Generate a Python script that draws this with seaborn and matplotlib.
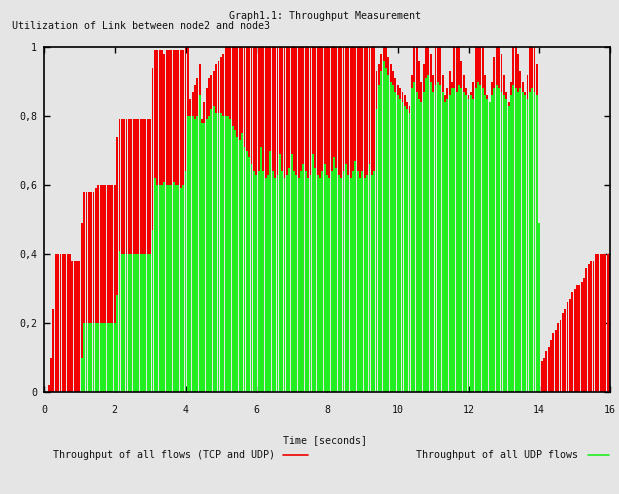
import numpy as np
import pandas as pd
import matplotlib
matplotlib.use("Agg")
import matplotlib.pyplot as plt
from matplotlib.lines import Line2D
import seaborn as sns

# ---------------- data (sampled every 1/15 s, 15 samples per second) ----------------
total_s0 = [0.00, 0.00, 0.02, 0.10, 0.24, 0.40, 0.40, 0.40, 0.40, 0.40, 0.40, 0.40, 0.38, 0.38, 0.38]
total_s1 = [0.38, 0.49, 0.58, 0.58, 0.58, 0.58, 0.58, 0.59, 0.60, 0.60, 0.60, 0.60, 0.60, 0.60, 0.60]
total_s2 = [0.60, 0.74, 0.79, 0.79, 0.79, 0.79, 0.79, 0.79, 0.79, 0.79, 0.79, 0.79, 0.79, 0.79, 0.79]
total_s3 = [0.79, 0.94, 0.99, 0.99, 0.99, 0.99, 0.98, 0.99, 0.99, 0.99, 0.99, 0.99, 0.99, 0.99, 0.99]
total_s4 = [1.00, 1.00, 0.85, 0.87, 0.89, 0.91, 0.95, 0.79, 0.84, 0.88, 0.91, 0.92, 0.93, 0.95, 0.96]
total_s5 = [0.97, 0.98, 1.00, 1.00, 1.00, 1.00, 1.00, 1.00, 1.00, 1.00, 1.00, 1.00, 1.00, 1.00, 1.00]
total_s6 = [1.00, 1.00, 1.00, 1.00, 1.00, 1.00, 1.00, 1.00, 1.00, 1.00, 1.00, 1.00, 1.00, 1.00, 1.00]
total_s7 = [1.00, 1.00, 1.00, 1.00, 1.00, 1.00, 1.00, 1.00, 1.00, 1.00, 1.00, 1.00, 1.00, 1.00, 1.00]
total_s8 = [1.00, 1.00, 1.00, 1.00, 1.00, 1.00, 1.00, 1.00, 1.00, 1.00, 1.00, 1.00, 1.00, 1.00, 1.00]
total_s9 = [1.00, 1.00, 1.00, 1.00, 1.00, 1.00, 0.93, 0.95, 0.98, 1.00, 1.00, 0.97, 0.95, 0.93, 0.91]
total_s10 = [0.89, 0.88, 0.87, 0.86, 0.84, 0.83, 0.92, 1.00, 1.00, 0.96, 0.90, 0.95, 1.00, 1.00, 0.98]
total_s11 = [0.92, 1.00, 1.00, 1.00, 0.92, 0.86, 0.88, 0.93, 0.90, 1.00, 1.00, 1.00, 0.96, 0.92, 0.88]
total_s12 = [0.86, 0.87, 0.90, 1.00, 1.00, 1.00, 1.00, 0.92, 0.86, 0.84, 0.90, 0.97, 1.00, 1.00, 0.98]
total_s13 = [0.92, 0.87, 0.84, 0.90, 1.00, 1.00, 0.98, 0.93, 0.90, 0.87, 0.92, 1.00, 1.00, 1.00, 0.95]
total_s14 = [0.49, 0.09, 0.10, 0.12, 0.13, 0.15, 0.17, 0.18, 0.20, 0.21, 0.23, 0.24, 0.26, 0.27, 0.29]
total_s15 = [0.30, 0.31, 0.31, 0.32, 0.33, 0.36, 0.37, 0.38, 0.38, 0.40, 0.40, 0.40, 0.40, 0.40, 0.40]
total_end = [0.40]

udp_s0 = [0.00] * 15
udp_s1 = [0.00, 0.10, 0.20, 0.20, 0.20, 0.20, 0.20, 0.20, 0.20, 0.20, 0.20, 0.20, 0.20, 0.20, 0.20]
udp_s2 = [0.20, 0.28, 0.41, 0.40, 0.40, 0.40, 0.40, 0.40, 0.40, 0.40, 0.40, 0.40, 0.40, 0.40, 0.40]
udp_s3 = [0.40, 0.47, 0.62, 0.60, 0.60, 0.60, 0.61, 0.60, 0.60, 0.60, 0.61, 0.60, 0.60, 0.59, 0.60]
udp_s4 = [0.64, 0.80, 0.80, 0.80, 0.79, 0.80, 0.86, 0.78, 0.78, 0.79, 0.80, 0.82, 0.83, 0.81, 0.81]
udp_s5 = [0.81, 0.80, 0.80, 0.80, 0.79, 0.77, 0.76, 0.74, 0.73, 0.75, 0.71, 0.70, 0.68, 0.66, 0.64]
udp_s6 = [0.63, 0.64, 0.71, 0.64, 0.62, 0.63, 0.70, 0.64, 0.62, 0.63, 0.69, 0.64, 0.62, 0.63, 0.65]
udp_s7 = [0.69, 0.64, 0.63, 0.62, 0.64, 0.66, 0.64, 0.62, 0.63, 0.69, 0.65, 0.63, 0.62, 0.64, 0.66]
udp_s8 = [0.63, 0.62, 0.64, 0.68, 0.65, 0.63, 0.62, 0.64, 0.66, 0.63, 0.62, 0.64, 0.67, 0.64, 0.62]
udp_s9 = [0.64, 0.62, 0.63, 0.66, 0.63, 0.64, 0.82, 0.89, 0.93, 0.96, 0.94, 0.92, 0.90, 0.89, 0.87]
udp_s10 = [0.86, 0.85, 0.84, 0.83, 0.82, 0.81, 0.88, 0.90, 0.87, 0.85, 0.84, 0.87, 0.91, 0.92, 0.90]
udp_s11 = [0.87, 0.89, 0.90, 0.89, 0.87, 0.84, 0.85, 0.86, 0.88, 0.88, 0.87, 0.89, 0.88, 0.87, 0.86]
udp_s12 = [0.85, 0.86, 0.85, 0.88, 0.90, 0.89, 0.88, 0.86, 0.85, 0.84, 0.86, 0.88, 0.89, 0.88, 0.87]
udp_s13 = [0.86, 0.85, 0.83, 0.86, 0.89, 0.88, 0.87, 0.88, 0.87, 0.86, 0.85, 0.87, 0.88, 0.87, 0.86]
udp_s14 = [0.49] + [0.00] * 14
udp_s15 = [0.00] * 15
udp_end = [0.00]

x_ticks = [0, 2, 4, 6, 8, 10, 12, 14, 16]
y_ticks = [0, 0.2, 0.4, 0.6, 0.8, 1]
y_tick_labels = ["0", "0,2", "0,4", "0,6", "0,8", "1"]

title = "Graph1.1: Throughput Measurement"
ylabel = "Utilization of Link between node2 and node3"
xlabel = "Time [seconds]"
legend_total = "Throughput of all flows (TCP and UDP)"
legend_udp = "Throughput of all UDP flows"

# ---------------- assemble ----------------
total = (total_s0 + total_s1 + total_s2 + total_s3 + total_s4 + total_s5 + total_s6 + total_s7
         + total_s8 + total_s9 + total_s10 + total_s11 + total_s12 + total_s13 + total_s14
         + total_s15 + total_end)
udp = (udp_s0 + udp_s1 + udp_s2 + udp_s3 + udp_s4 + udp_s5 + udp_s6 + udp_s7 + udp_s8 + udp_s9
       + udp_s10 + udp_s11 + udp_s12 + udp_s13 + udp_s14 + udp_s15 + udp_end)
sample_step = 1 / 15
t = np.round(np.arange(len(total)) * sample_step, 5)
df = pd.DataFrame({"t": t, "total": total, "udp": udp})

BG = "#e5e5e5"
RED = "#f20000"
GREEN = "#22ee22"

sns.set_style("ticks")
plt.rcParams["font.family"] = ["DejaVu Sans Mono"]
plt.rcParams["axes.facecolor"] = BG
plt.rcParams["figure.facecolor"] = BG

W, H = 619, 494
fig = plt.figure(figsize=(W / 100, H / 100), dpi=100)
fig.patch.set_facecolor(BG)
ax = fig.add_axes([44 / W, 1 - 392 / H, (610 - 44) / W, (392 - 47) / H])
ax.set_facecolor(BG)

sns.barplot(data=df, x="t", y="total", native_scale=True, color=RED, saturation=1,
            width=0.8, errorbar=None, linewidth=0, ax=ax)
sns.barplot(data=df, x="t", y="udp", native_scale=True, color=GREEN, saturation=1,
            width=0.8, errorbar=None, linewidth=0, ax=ax)

ax.set_xlim(0, 16)
ax.set_ylim(0, 1)
ax.set_xticks(x_ticks)
ax.set_xticklabels([str(v) for v in x_ticks])
ax.set_yticks(y_ticks)
ax.set_yticklabels(y_tick_labels)
ax.set_xlabel("")
ax.set_ylabel("")
ax.tick_params(direction="in", top=True, right=True, length=4, width=1.0,
               labelsize=7.2, color="black", labelcolor="#111111")
ax.tick_params(axis="x", pad=9)
ax.tick_params(axis="y", pad=5)
for s in ax.spines.values():
    s.set_visible(True)
    s.set_color("black")
    s.set_linewidth(1.2)

fs = 7.2
fig.text(325 / W, 1 - 16 / H, title, ha="center", va="center", fontsize=fs, color="#111111")
fig.text(12 / W, 1 - 26 / H, ylabel, ha="left", va="center", fontsize=fs, color="#111111")
fig.text(325 / W, 1 - 440 / H, xlabel, ha="center", va="center", fontsize=fs, color="#111111")

ly = 1 - 455 / H
fig.text(275 / W, ly, legend_total, ha="right", va="center", fontsize=fs, color="#111111")
fig.add_artist(Line2D([283 / W, 308 / W], [ly, ly], color=RED, linewidth=1.2, transform=fig.transFigure))
fig.text(578 / W, ly, legend_udp, ha="right", va="center", fontsize=fs, color="#111111")
fig.add_artist(Line2D([588 / W, 609 / W], [ly, ly], color=GREEN, linewidth=1.2, transform=fig.transFigure))

fig.savefig("out.png", dpi=100, facecolor=BG)
